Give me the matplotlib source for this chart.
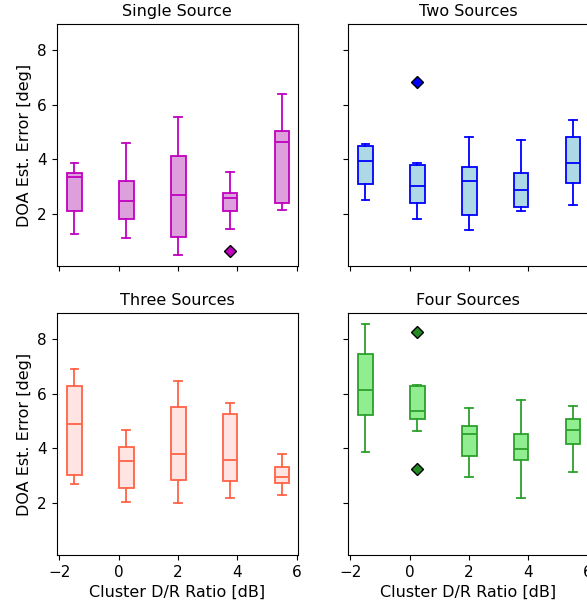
import matplotlib
matplotlib.use("Agg")
import matplotlib.pyplot as plt

positions = [-1.5, 0.25, 2.0, 3.75, 5.5]
xticks = [-2, 0, 2, 4, 6]
yticks = [2, 4, 6, 8]

titles = ["Single Source", "Two Sources", "Three Sources", "Four Sources"]

# whislo, q1, med, q3, whishi, fliers
single_lo = [1.26, 1.12, 0.51, 1.45, 2.13]
single_q1 = [2.12, 1.82, 1.16, 2.12, 2.41]
single_med = [3.35, 2.49, 2.68, 2.58, 4.64]
single_q3 = [3.50, 3.22, 4.12, 2.77, 5.04]
single_hi = [3.88, 4.58, 5.54, 3.52, 6.40]
single_fl = [[], [], [], [0.66], []]

two_lo = [2.51, 1.80, 1.40, 2.10, 2.34]
two_q1 = [3.11, 2.39, 1.96, 2.26, 3.15]
two_med = [3.92, 3.03, 3.19, 2.88, 3.86]
two_q3 = [4.49, 3.79, 3.70, 3.48, 4.83]
two_hi = [4.56, 3.87, 4.82, 4.71, 5.42]
two_fl = [[], [6.82], [], [], []]

three_lo = [2.69, 2.05, 2.00, 2.18, 2.29]
three_q1 = [3.02, 2.54, 2.85, 2.79, 2.73]
three_med = [4.87, 3.55, 3.80, 3.56, 2.95]
three_q3 = [6.26, 4.04, 5.52, 5.26, 3.33]
three_hi = [6.88, 4.65, 6.47, 5.64, 3.80]
three_fl = [[], [], [], [], []]

four_lo = [3.85, 4.62, 2.95, 2.20, 3.15]
four_q1 = [5.21, 5.07, 3.73, 3.58, 4.14]
four_med = [6.14, 5.35, 4.51, 3.97, 4.68]
four_q3 = [7.45, 6.26, 4.82, 4.51, 5.07]
four_hi = [8.54, 6.32, 5.47, 5.76, 5.53]
four_fl = [[], [8.24, 3.24], [], [], []]

series = [
    (single_lo, single_q1, single_med, single_q3, single_hi, single_fl),
    (two_lo, two_q1, two_med, two_q3, two_hi, two_fl),
    (three_lo, three_q1, three_med, three_q3, three_hi, three_fl),
    (four_lo, four_q1, four_med, four_q3, four_hi, four_fl),
]
face_colors = ["plum", "lightblue", "mistyrose", "lightgreen"]
edge_colors = ["#c000c0", "blue", "tomato", "#2ca02c"]
flier_colors = ["#c000c0", "blue", "tomato", "forestgreen"]

W, H = 587, 610
fig = plt.figure(figsize=(W / 100, H / 100), dpi=100)
lefts = [56.7, 347.7]
tops = [24.3, 313.3]
aw, ah = 241.3, 241.7

for i in range(4):
    r, c = divmod(i, 2)
    ax = fig.add_axes([lefts[c] / W, 1 - (tops[r] + ah) / H, aw / W, ah / H])
    lo, q1, med, q3, hi, fl = series[i]
    stats = []
    for k in range(len(positions)):
        stats.append(dict(whislo=lo[k], q1=q1[k], med=med[k], q3=q3[k],
                          whishi=hi[k], fliers=fl[k]))
    ec = edge_colors[i]
    lw = 1.3
    ax.bxp(stats, positions=positions, widths=0.5, patch_artist=True,
           showfliers=True,
           boxprops=dict(facecolor=face_colors[i], edgecolor=ec, linewidth=lw),
           medianprops=dict(color=ec, linewidth=lw),
           whiskerprops=dict(color=ec, linewidth=lw),
           capprops=dict(color=ec, linewidth=lw),
           flierprops=dict(marker="D", markerfacecolor=flier_colors[i],
                           markeredgecolor="black", markersize=6,
                           linestyle="none"))
    ax.set_xlim(-2.09, 6.04)
    ax.set_ylim(0.1, 8.93)
    ax.set_xticks(xticks)
    ax.set_yticks(yticks)
    ax.tick_params(labelsize=11)
    ax.set_title(titles[i], fontsize=11.5)
    if r == 1:
        ax.set_xticklabels([str(v) if v >= 0 else "\u2212" + str(-v) for v in xticks])
        ax.set_xlabel("Cluster D/R Ratio [dB]", fontsize=11.5)
    else:
        ax.set_xticklabels([])
    if c == 0:
        ax.set_ylabel("DOA Est. Error [deg]", fontsize=11.5)
    else:
        ax.set_yticklabels([])

fig.savefig("out.png", dpi=100)
